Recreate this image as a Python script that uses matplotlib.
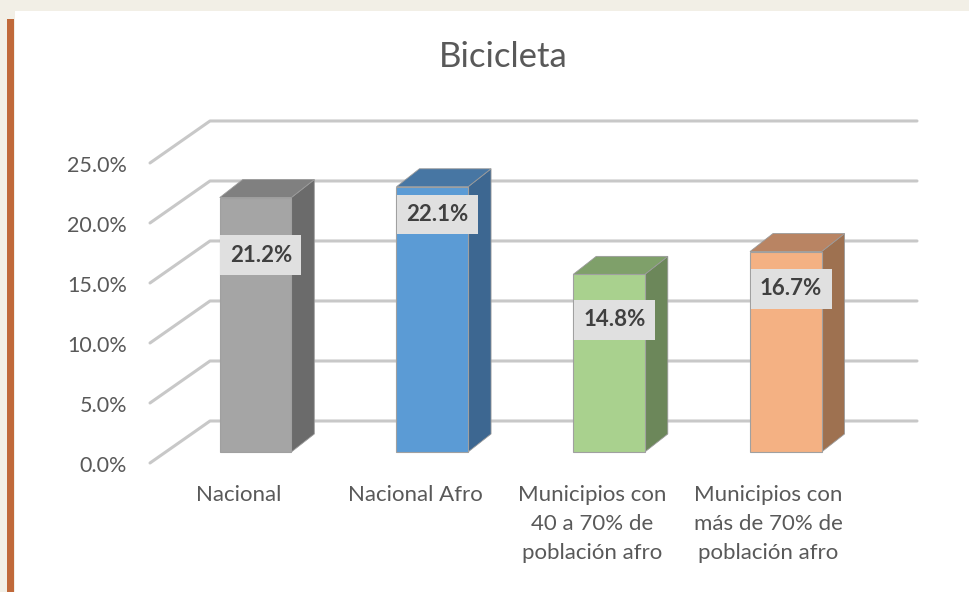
import matplotlib
matplotlib.use("Agg")
import matplotlib.pyplot as plt
from matplotlib.patches import Polygon, Rectangle

plt.rcParams['font.family'] = ['Lato', 'DejaVu Sans']

# data
categories = ["Nacional", "Nacional Afro",
              "Municipios con\n40 a 70% de\npoblación afro",
              "Municipios con\nmás de 70% de\npoblación afro"]
values = [21.2, 22.1, 14.8, 16.7]
ticks = [0, 5, 10, 15, 20, 25]

# bar colours: front, side, top
front_colors = ["#A5A5A5", "#5B9BD5", "#A9D18E", "#F4B183"]
side_colors = ["#6B6B6B", "#3D6791", "#6C875A", "#9E7150"]
top_colors = ["#808080", "#4776A3", "#7FA06A", "#B98463"]

# how far below the bar top each value box sits (in %)
label_drop = [4.8, 2.3, 3.8, 3.1]

fig = plt.figure(figsize=(9.69, 5.92), dpi=100)
fig.patch.set_facecolor("#F2EFE6")
fig.patches.append(Rectangle((15 / 969, 0), 954 / 969, 581 / 592,
                             transform=fig.transFigure, facecolor="white",
                             edgecolor="none", zorder=-2))
fig.patches.append(Rectangle((7 / 969, 0), 7 / 969, 573 / 592,
                             transform=fig.transFigure, facecolor="#C0693A",
                             edgecolor="none", zorder=-1))

ax = fig.add_axes([0, 0, 1, 1])
ax.set_xlim(-0.8487, 4.6337)
ax.set_ylim(-10.75, 38.58)
ax.axis("off")

# perspective: back wall offset and bar depth
gx, gy = 0.3395, 3.5
n = len(categories)

for t in ticks:
    ax.plot([0, gx, n + gx], [t, t + gy, t + gy], color="#C8C8C8",
            lw=2.2, solid_capstyle="round", solid_joinstyle="round", zorder=1)
    ax.text(-0.13, t - 0.25, f"{t:.1f}%", ha="right", va="center",
            fontsize=15.5, color="#595959")

# bars sit a bit behind the front plane
bx, by = 0.097, 0.917
w = 0.405
dx, dy = 0.13, 1.5
for i, v in enumerate(values):
    x0 = i + 0.5 + bx - w / 2
    x1 = x0 + w
    b = by
    t = by + v
    ax.add_patch(Polygon([(x1, b), (x1 + dx, b + dy), (x1 + dx, t + dy), (x1, t)],
                         closed=True, facecolor=side_colors[i],
                         edgecolor="#9A9A9A", lw=0.6, zorder=3))
    ax.add_patch(Polygon([(x0, t), (x0 + dx, t + dy), (x1 + dx, t + dy), (x1, t)],
                         closed=True, facecolor=top_colors[i],
                         edgecolor="#9A9A9A", lw=0.6, zorder=3))
    ax.add_patch(Rectangle((x0, b), w, v, facecolor=front_colors[i],
                           edgecolor="#A0A0A0", lw=0.8, zorder=4))
    ax.text(i + 0.5 + bx + 0.03, t - label_drop[i], f"{v:.1f}%",
            ha="center", va="center", fontsize=16, fontweight="bold",
            color="#404040", zorder=5,
            bbox=dict(boxstyle="square,pad=0.42", facecolor="#E0E0E0",
                      edgecolor="none"))

for i, c in enumerate(categories):
    ax.text(i + 0.5, -1.85, c, ha="center", va="top", fontsize=16,
            color="#595959", linespacing=1.55)

ax.text(2.0, 33.8, "Bicicleta", ha="center", va="center",
        fontsize=25, color="#595959")

fig.savefig("out.png", dpi=100)
